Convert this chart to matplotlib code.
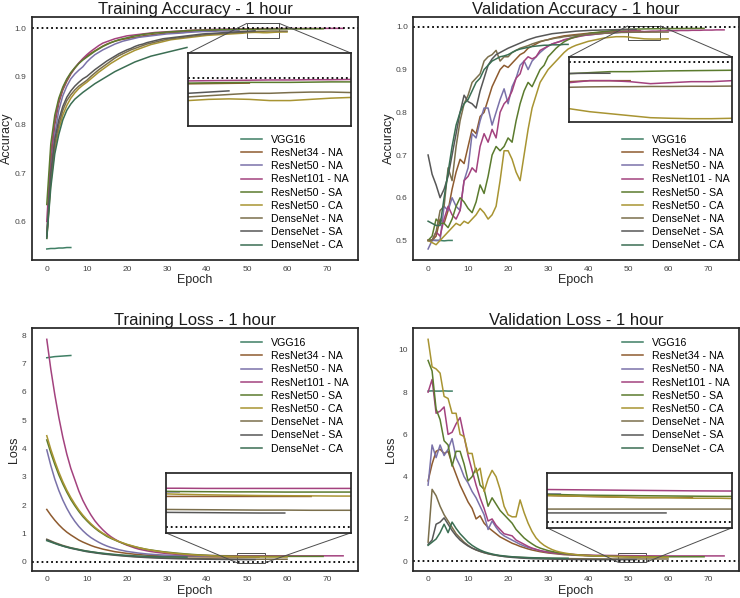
import matplotlib
matplotlib.use("Agg")
import matplotlib.pyplot as plt
from mpl_toolkits.axes_grid1.inset_locator import mark_inset

plt.rcParams['font.family'] = ['Liberation Sans', 'DejaVu Sans']

models = ["VGG16", "ResNet34 - NA", "ResNet50 - NA", "ResNet101 - NA", "ResNet50 - SA",
          "ResNet50 - CA", "DenseNet - NA", "DenseNet - SA", "DenseNet - CA"]
colors = ['#3f7f64', '#8e5b2f', '#7a72a9', '#a3427e', '#5b7b2e',
          '#a89432', '#7b6f4c', '#575757', '#3b6e53']

# ---------------- Training accuracy ----------------
tacc_vgg16 = [0.543, 0.544, 0.544, 0.545, 0.545, 0.546, 0.546]
tacc_r34na = [0.57, 0.72, 0.80, 0.845, 0.872, 0.89, 0.905, 0.917, 0.927, 0.935,
              0.942, 0.948, 0.953, 0.958, 0.963, 0.967, 0.970, 0.973, 0.975, 0.977,
              0.978, 0.980, 0.981, 0.982, 0.984, 0.985, 0.986, 0.987, 0.988, 0.989,
              0.990, 0.9905, 0.991, 0.9915, 0.992, 0.993, 0.9935, 0.994, 0.9942, 0.9945,
              0.995, 0.9952, 0.9955, 0.9957, 0.996, 0.9962, 0.9965, 0.9967, 0.997, 0.9972,
              0.9974, 0.9975, 0.9976, 0.9977]
tacc_r50na = [0.57, 0.70, 0.78, 0.83, 0.86, 0.88, 0.895, 0.905, 0.913, 0.92,
              0.93, 0.938, 0.945, 0.95, 0.955, 0.959, 0.963, 0.967, 0.97, 0.973,
              0.975, 0.977, 0.979, 0.981, 0.982, 0.983, 0.984, 0.985, 0.986, 0.987,
              0.988, 0.9885, 0.989, 0.9895, 0.99, 0.991, 0.9915, 0.992, 0.9925, 0.993,
              0.993, 0.9935, 0.9935, 0.994, 0.994, 0.994, 0.9942, 0.9945, 0.9945]
tacc_r101na = [0.60, 0.74, 0.81, 0.85, 0.875, 0.893, 0.907, 0.918, 0.928, 0.937,
               0.945, 0.952, 0.958, 0.964, 0.969, 0.972, 0.975, 0.978, 0.980, 0.982,
               0.984, 0.985, 0.986, 0.987, 0.988, 0.989, 0.990, 0.991, 0.9915, 0.992,
               0.9925, 0.993, 0.9935, 0.994, 0.9945, 0.995, 0.9955, 0.996, 0.9963, 0.9966,
               0.997, 0.9972, 0.9974, 0.9976, 0.9978, 0.998, 0.9982, 0.9983, 0.9984, 0.9985,
               0.9986, 0.9987, 0.9988, 0.9989, 0.999, 0.999, 0.9991, 0.9991, 0.9992, 0.9992,
               0.9992, 0.9993, 0.9993, 0.9993, 0.9993, 0.9994, 0.9994, 0.9994, 0.9994, 0.9994,
               0.9995, 0.9995, 0.9995, 0.9995, 0.9995]
tacc_r50sa = [0.635, 0.76, 0.82, 0.855, 0.878, 0.895, 0.908, 0.918, 0.927, 0.934,
              0.94, 0.946, 0.952, 0.957, 0.962, 0.966, 0.97, 0.973, 0.976, 0.978,
              0.98, 0.982, 0.984, 0.985, 0.987, 0.988, 0.989, 0.99, 0.9905, 0.991,
              0.992, 0.9925, 0.993, 0.9935, 0.994, 0.995, 0.9952, 0.9955, 0.9957, 0.996,
              0.996, 0.9962, 0.9965, 0.9967, 0.997, 0.997, 0.9972, 0.9974, 0.9975, 0.9976,
              0.9977, 0.9978, 0.9979, 0.998, 0.998, 0.998, 0.9981, 0.9982, 0.9982, 0.9983,
              0.9983, 0.9984, 0.9984, 0.9985, 0.9985, 0.9986, 0.9986, 0.9987, 0.9987, 0.9987]
tacc_r50ca = [0.565, 0.68, 0.75, 0.79, 0.82, 0.84, 0.855, 0.866, 0.875, 0.882,
              0.888, 0.895, 0.902, 0.909, 0.915, 0.921, 0.927, 0.932, 0.937, 0.942,
              0.946, 0.95, 0.954, 0.957, 0.96, 0.963, 0.966, 0.968, 0.97, 0.972,
              0.974, 0.976, 0.977, 0.978, 0.979, 0.98, 0.981, 0.982, 0.983, 0.984,
              0.985, 0.9855, 0.986, 0.9865, 0.987, 0.9875, 0.988, 0.9885, 0.989, 0.9895,
              0.9905, 0.991, 0.9912, 0.991, 0.9905, 0.9905, 0.991, 0.9915, 0.9918, 0.992, 0.992]
tacc_dnna = [0.567, 0.69, 0.76, 0.80, 0.83, 0.85, 0.862, 0.872, 0.88, 0.886,
             0.892, 0.9, 0.907, 0.914, 0.92, 0.926, 0.932, 0.938, 0.943, 0.947,
             0.951, 0.955, 0.958, 0.961, 0.964, 0.967, 0.969, 0.971, 0.973, 0.975,
             0.977, 0.978, 0.979, 0.98, 0.981, 0.982, 0.983, 0.984, 0.985, 0.986,
             0.987, 0.9875, 0.988, 0.9885, 0.989, 0.9895, 0.99, 0.9905, 0.991, 0.9915,
             0.992, 0.9925, 0.993, 0.9935, 0.9935, 0.9938, 0.994, 0.994, 0.9938, 0.9937, 0.9937]
tacc_dnsa = [0.57, 0.7, 0.77, 0.81, 0.838, 0.857, 0.87, 0.88, 0.888, 0.895,
             0.9, 0.907, 0.914, 0.92, 0.926, 0.932, 0.937, 0.942, 0.947, 0.951,
             0.955, 0.958, 0.962, 0.965, 0.967, 0.97, 0.972, 0.974, 0.976, 0.978,
             0.979, 0.98, 0.981, 0.982, 0.983, 0.984, 0.985, 0.986, 0.987, 0.988,
             0.9885, 0.989, 0.9895, 0.99, 0.9905, 0.991, 0.9915, 0.992, 0.9925, 0.993,
             0.9935, 0.994, 0.9945]
tacc_dnca = [0.565, 0.67, 0.74, 0.78, 0.81, 0.83, 0.843, 0.853, 0.86, 0.867,
             0.873, 0.879, 0.885, 0.89, 0.895, 0.9, 0.905, 0.91, 0.914, 0.918,
             0.922, 0.926, 0.93, 0.933, 0.936, 0.939, 0.942, 0.944, 0.946, 0.948,
             0.95, 0.952, 0.954, 0.956, 0.958, 0.96]

# ---------------- Validation accuracy ----------------
vacc_vgg16 = [0.5, 0.501, 0.5, 0.5, 0.499, 0.5, 0.5]
vacc_r34na = [0.50, 0.50, 0.51, 0.55, 0.54, 0.57, 0.62, 0.66, 0.69, 0.68,
              0.72, 0.76, 0.75, 0.79, 0.80, 0.83, 0.86, 0.88, 0.90, 0.91,
              0.905, 0.915, 0.925, 0.935, 0.94, 0.95, 0.955, 0.96, 0.965, 0.968,
              0.97, 0.973, 0.975, 0.977, 0.979, 0.98, 0.981, 0.982, 0.983, 0.984,
              0.985, 0.986, 0.986, 0.987, 0.987, 0.988, 0.988, 0.989, 0.989, 0.99,
              0.99, 0.9905, 0.9905, 0.9905]
vacc_r50na = [0.48, 0.50, 0.50, 0.50, 0.58, 0.57, 0.60, 0.58, 0.57, 0.64,
              0.67, 0.75, 0.74, 0.78, 0.81, 0.81, 0.77, 0.80, 0.83, 0.855,
              0.82, 0.86, 0.88, 0.91, 0.92, 0.90, 0.92, 0.93, 0.94, 0.948,
              0.955, 0.96, 0.963, 0.966, 0.969, 0.972, 0.975, 0.977, 0.979, 0.98,
              0.981, 0.982, 0.983, 0.984, 0.985, 0.985, 0.986, 0.986, 0.987]
vacc_r101na = [0.50, 0.50, 0.52, 0.51, 0.55, 0.58, 0.56, 0.55, 0.57, 0.64,
               0.65, 0.67, 0.66, 0.72, 0.75, 0.73, 0.76, 0.74, 0.80, 0.82,
               0.83, 0.85, 0.88, 0.89, 0.92, 0.93, 0.925, 0.93, 0.945, 0.95,
               0.955, 0.96, 0.963, 0.966, 0.97, 0.972, 0.974, 0.976, 0.978, 0.98,
               0.981, 0.982, 0.983, 0.984, 0.985, 0.986, 0.987, 0.988, 0.989, 0.989,
               0.9895, 0.9905, 0.9905, 0.99, 0.989, 0.9895, 0.99, 0.99, 0.9905, 0.9905,
               0.991, 0.991, 0.991, 0.9915, 0.9915, 0.9915, 0.992, 0.992, 0.992, 0.9925,
               0.9925, 0.9925, 0.993, 0.993, 0.993]
vacc_r50sa = [0.50, 0.51, 0.55, 0.54, 0.54, 0.53, 0.55, 0.58, 0.60, 0.59,
              0.575, 0.565, 0.59, 0.63, 0.61, 0.65, 0.70, 0.72, 0.71, 0.72,
              0.74, 0.73, 0.78, 0.82, 0.85, 0.87, 0.86, 0.88, 0.90, 0.91,
              0.93, 0.94, 0.95, 0.958, 0.965, 0.97, 0.974, 0.977, 0.98, 0.982,
              0.984, 0.986, 0.987, 0.988, 0.989, 0.99, 0.991, 0.992, 0.993, 0.9935,
              0.994, 0.9945, 0.995, 0.995, 0.9952, 0.9954, 0.9955, 0.9956, 0.9957, 0.9958,
              0.9959, 0.996, 0.996, 0.9961, 0.9962, 0.9963, 0.9963, 0.9964, 0.9965, 0.9965]
vacc_r50ca = [0.50, 0.495, 0.49, 0.50, 0.51, 0.52, 0.53, 0.54, 0.535, 0.545,
              0.54, 0.55, 0.56, 0.575, 0.565, 0.55, 0.56, 0.58, 0.64, 0.71,
              0.71, 0.69, 0.66, 0.64, 0.70, 0.76, 0.81, 0.84, 0.87, 0.885,
              0.90, 0.91, 0.92, 0.93, 0.94, 0.948, 0.953, 0.957, 0.96, 0.963,
              0.966, 0.968, 0.97, 0.972, 0.974, 0.975, 0.976, 0.977, 0.977, 0.977,
              0.9765, 0.975, 0.974, 0.973, 0.972, 0.9717, 0.9715, 0.9715, 0.9717, 0.9718, 0.972]
vacc_dnna = [0.50, 0.50, 0.52, 0.57, 0.58, 0.67, 0.64, 0.72, 0.78, 0.82,
             0.84, 0.87, 0.88, 0.89, 0.92, 0.93, 0.935, 0.945, 0.92, 0.93,
             0.93, 0.94, 0.945, 0.95, 0.953, 0.956, 0.96, 0.963, 0.966, 0.968,
             0.97, 0.972, 0.974, 0.975, 0.977, 0.978, 0.979, 0.98, 0.981, 0.982,
             0.983, 0.9835, 0.984, 0.9845, 0.985, 0.9855, 0.986, 0.9865, 0.987, 0.987,
             0.9872, 0.9874, 0.9875, 0.9875, 0.9876, 0.9876, 0.9877, 0.9877, 0.9878, 0.9878, 0.9878]
vacc_dnsa = [0.70, 0.655, 0.63, 0.60, 0.62, 0.65, 0.70, 0.75, 0.80, 0.84,
             0.825, 0.82, 0.81, 0.85, 0.88, 0.91, 0.925, 0.935, 0.94, 0.945,
             0.95, 0.954, 0.958, 0.962, 0.966, 0.97, 0.973, 0.976, 0.978, 0.98,
             0.982, 0.984, 0.985, 0.986, 0.987, 0.988, 0.989, 0.99, 0.9905, 0.991,
             0.9915, 0.992, 0.9922, 0.9925, 0.9928, 0.993, 0.9932, 0.9935, 0.9937, 0.994,
             0.9941, 0.9942, 0.9942]
vacc_dnca = [0.545, 0.54, 0.535, 0.535, 0.60, 0.66, 0.72, 0.77, 0.80, 0.82,
             0.83, 0.85, 0.87, 0.88, 0.90, 0.91, 0.92, 0.925, 0.93, 0.932,
             0.935, 0.94, 0.945, 0.948, 0.95, 0.952, 0.954, 0.955, 0.956, 0.957,
             0.957, 0.958, 0.958, 0.958, 0.959, 0.959]

# ---------------- Training loss ----------------
tloss_vgg16 = [7.2, 7.22, 7.24, 7.25, 7.26, 7.27, 7.28]
tloss_r34na = [1.85, 1.65, 1.47, 1.31, 1.17, 1.05, 0.95, 0.86, 0.77, 0.7,
               0.64, 0.58, 0.53, 0.49, 0.45, 0.42, 0.39, 0.36, 0.34, 0.32,
               0.3, 0.285, 0.27, 0.258, 0.247, 0.237, 0.228, 0.22, 0.213, 0.207,
               0.202, 0.198, 0.194, 0.19, 0.187, 0.185, 0.183, 0.181, 0.179, 0.177,
               0.176, 0.175, 0.174, 0.173, 0.172, 0.171, 0.171, 0.17, 0.17, 0.17,
               0.17, 0.17, 0.17, 0.17]
tloss_r50na = [3.95, 3.4, 2.92, 2.52, 2.18, 1.89, 1.64, 1.43, 1.25, 1.1,
               0.97, 0.86, 0.77, 0.69, 0.62, 0.56, 0.51, 0.47, 0.43, 0.4,
               0.37, 0.35, 0.33, 0.31, 0.295, 0.28, 0.27, 0.26, 0.25, 0.243,
               0.237, 0.231, 0.226, 0.222, 0.218, 0.215, 0.212, 0.21, 0.208, 0.206,
               0.204, 0.202, 0.2, 0.199, 0.198, 0.197, 0.196, 0.195, 0.195]
tloss_r101na = [7.85, 6.8, 5.9, 5.1, 4.4, 3.8, 3.3, 2.9, 2.5, 2.17,
                1.9, 1.66, 1.45, 1.28, 1.13, 1.0, 0.89, 0.8, 0.72, 0.65,
                0.59, 0.54, 0.49, 0.45, 0.42, 0.39, 0.365, 0.345, 0.325, 0.31,
                0.295, 0.283, 0.272, 0.263, 0.255, 0.248, 0.242, 0.237, 0.233, 0.229,
                0.226, 0.223, 0.221, 0.219, 0.218, 0.217, 0.216, 0.215, 0.215, 0.214,
                0.214, 0.214, 0.214, 0.214, 0.214, 0.214, 0.214, 0.214, 0.214, 0.214,
                0.214, 0.214, 0.214, 0.214, 0.214, 0.214, 0.214, 0.214, 0.214, 0.214,
                0.214, 0.214, 0.214, 0.214, 0.214]
tloss_r50sa = [4.3, 3.85, 3.44, 3.07, 2.75, 2.46, 2.2, 1.98, 1.78, 1.6,
               1.45, 1.31, 1.19, 1.08, 0.99, 0.9, 0.83, 0.77, 0.71, 0.66,
               0.61, 0.57, 0.53, 0.5, 0.47, 0.44, 0.42, 0.4, 0.38, 0.36,
               0.345, 0.33, 0.315, 0.302, 0.29, 0.278, 0.267, 0.257, 0.248, 0.24,
               0.233, 0.226, 0.22, 0.215, 0.21, 0.206, 0.202, 0.199, 0.197, 0.196,
               0.195, 0.195, 0.194, 0.194, 0.194, 0.194, 0.194, 0.194, 0.194, 0.194,
               0.194, 0.194, 0.194, 0.194, 0.194, 0.194, 0.194, 0.194, 0.194, 0.194]
tloss_r50ca = [4.45, 3.97, 3.55, 3.17, 2.83, 2.53, 2.27, 2.04, 1.83, 1.65,
               1.49, 1.35, 1.22, 1.11, 1.01, 0.93, 0.85, 0.78, 0.72, 0.67,
               0.62, 0.58, 0.54, 0.5, 0.47, 0.44, 0.415, 0.39, 0.37, 0.35,
               0.33, 0.315, 0.3, 0.287, 0.275, 0.264, 0.254, 0.245, 0.237, 0.23,
               0.223, 0.216, 0.21, 0.204, 0.199, 0.194, 0.19, 0.186, 0.182, 0.179,
               0.177, 0.175, 0.174, 0.173, 0.172, 0.172, 0.171, 0.171, 0.171, 0.171, 0.171]
tloss_dnna = [0.8, 0.74, 0.68, 0.63, 0.58, 0.54, 0.5, 0.47, 0.44, 0.41,
              0.38, 0.355, 0.335, 0.315, 0.295, 0.28, 0.265, 0.25, 0.235, 0.222,
              0.21, 0.2, 0.19, 0.182, 0.175, 0.168, 0.162, 0.156, 0.151, 0.146,
              0.142, 0.138, 0.134, 0.13, 0.127, 0.124, 0.121, 0.118, 0.116, 0.114,
              0.112, 0.11, 0.108, 0.106, 0.104, 0.102, 0.1, 0.099, 0.098, 0.097,
              0.096, 0.095, 0.095, 0.094, 0.094, 0.094, 0.094, 0.094, 0.094, 0.094, 0.094]
tloss_dnsa = [0.78, 0.72, 0.66, 0.61, 0.56, 0.52, 0.48, 0.45, 0.42, 0.39,
              0.36, 0.34, 0.32, 0.3, 0.28, 0.265, 0.25, 0.235, 0.222, 0.21,
              0.198, 0.187, 0.177, 0.168, 0.16, 0.152, 0.145, 0.139, 0.133, 0.128,
              0.123, 0.119, 0.115, 0.111, 0.108, 0.105, 0.102, 0.1, 0.098, 0.096,
              0.094, 0.092, 0.09, 0.088, 0.086, 0.085, 0.084, 0.083, 0.082, 0.081,
              0.08, 0.079, 0.079]
tloss_dnca = [0.75, 0.7, 0.65, 0.6, 0.56, 0.52, 0.49, 0.46, 0.43, 0.4,
              0.38, 0.36, 0.34, 0.32, 0.305, 0.29, 0.275, 0.262, 0.25, 0.24,
              0.23, 0.221, 0.213, 0.206, 0.2, 0.195, 0.19, 0.186, 0.182, 0.179,
              0.176, 0.174, 0.172, 0.17, 0.169, 0.168]

# ---------------- Validation loss ----------------
vloss_vgg16 = [8.05, 8.06, 8.05, 8.05, 8.06, 8.05, 8.05]
vloss_r34na = [3.8, 4.6, 5.2, 5.3, 5.1, 5.2, 4.6, 4.1, 3.6, 3.2,
               2.8, 2.5, 2.0, 2.15, 1.8, 1.6, 1.45, 1.3, 1.15, 1.05,
               0.95, 0.85, 0.78, 0.7, 0.64, 0.58, 0.53, 0.49, 0.45, 0.42,
               0.39, 0.37, 0.35, 0.33, 0.31, 0.3, 0.29, 0.28, 0.27, 0.26,
               0.255, 0.25, 0.245, 0.24, 0.235, 0.23, 0.225, 0.22, 0.215, 0.21,
               0.205, 0.2, 0.2, 0.2]
vloss_r50na = [3.6, 5.5, 4.9, 5.5, 5.0, 5.3, 5.8, 4.9, 4.5, 4.0,
               3.7, 3.3, 3.0, 2.6, 2.2, 1.5, 1.9, 1.6, 1.35, 1.2,
               1.1, 1.0, 0.9, 0.8, 0.72, 0.65, 0.6, 0.55, 0.5, 0.46,
               0.43, 0.4, 0.38, 0.36, 0.34, 0.32, 0.31, 0.3, 0.29, 0.28,
               0.27, 0.26, 0.255, 0.25, 0.245, 0.24, 0.235, 0.23, 0.23]
vloss_r101na = [8.0, 8.6, 7.0, 7.1, 7.3, 6.0, 6.1, 6.5, 6.8, 5.9,
                5.0, 4.3, 3.6, 3.0, 2.5, 1.9, 2.0, 1.7, 1.5, 1.3,
                1.25, 1.2, 1.0, 0.9, 0.8, 0.7, 0.62, 0.56, 0.5, 0.46,
                0.43, 0.4, 0.38, 0.36, 0.34, 0.33, 0.32, 0.31, 0.3, 0.295,
                0.29, 0.285, 0.28, 0.278, 0.275, 0.272, 0.27, 0.268, 0.266, 0.264,
                0.262, 0.26, 0.258, 0.256, 0.255, 0.254, 0.253, 0.252, 0.251, 0.25,
                0.25, 0.25, 0.25, 0.25, 0.25, 0.25, 0.25, 0.25, 0.25, 0.25,
                0.25, 0.25, 0.25, 0.25, 0.25]
vloss_r50sa = [9.5, 9.0, 7.2, 6.7, 5.7, 5.5, 4.5, 5.2, 5.2, 4.6,
               3.8, 4.0, 4.4, 3.6, 3.4, 2.6, 3.0, 2.7, 2.4, 2.2,
               2.0, 1.8, 1.5, 1.3, 1.1, 0.95, 0.82, 0.7, 0.62, 0.56,
               0.5, 0.46, 0.42, 0.39, 0.36, 0.34, 0.32, 0.3, 0.29, 0.28,
               0.27, 0.26, 0.255, 0.25, 0.245, 0.24, 0.235, 0.23, 0.225, 0.22,
               0.218, 0.216, 0.214, 0.212, 0.21, 0.21, 0.21, 0.21, 0.21, 0.21,
               0.21, 0.21, 0.21, 0.21, 0.21, 0.21, 0.21, 0.21, 0.21, 0.21]
vloss_r50ca = [10.5, 9.2, 9.1, 8.9, 7.8, 7.7, 7.0, 7.0, 6.0, 5.9,
               5.1, 5.1, 4.2, 4.4, 3.3, 3.9, 4.3, 4.0, 3.4, 2.6,
               2.2, 2.1, 2.1, 2.9, 2.3, 1.8, 1.4, 1.1, 0.9, 0.75,
               0.64, 0.55, 0.48, 0.43, 0.39, 0.36, 0.33, 0.31, 0.29, 0.28,
               0.27, 0.26, 0.25, 0.24, 0.235, 0.23, 0.225, 0.22, 0.215, 0.21,
               0.205, 0.2, 0.2, 0.195, 0.195, 0.19, 0.19, 0.19, 0.19, 0.19, 0.19]
vloss_dnna = [0.9, 3.4, 3.1, 2.6, 2.2, 1.9, 1.6, 1.3, 1.1, 0.9,
              0.75, 0.62, 0.53, 0.46, 0.4, 0.35, 0.31, 0.28, 0.25, 0.23,
              0.21, 0.2, 0.19, 0.18, 0.17, 0.165, 0.16, 0.155, 0.15, 0.145,
              0.14, 0.135, 0.13, 0.128, 0.125, 0.122, 0.12, 0.118, 0.116, 0.114,
              0.112, 0.11, 0.11, 0.108, 0.107, 0.106, 0.105, 0.105, 0.105, 0.105,
              0.105, 0.105, 0.105, 0.105, 0.105, 0.105, 0.105, 0.105, 0.105, 0.105, 0.105]
vloss_dnsa = [0.8, 1.0, 1.75, 1.85, 2.05, 1.75, 1.45, 1.2, 1.0, 0.85,
              0.72, 0.62, 0.54, 0.47, 0.41, 0.36, 0.32, 0.28, 0.25, 0.22,
              0.2, 0.18, 0.165, 0.15, 0.14, 0.13, 0.12, 0.115, 0.11, 0.105,
              0.1, 0.097, 0.094, 0.091, 0.088, 0.086, 0.084, 0.082, 0.08, 0.079,
              0.078, 0.077, 0.076, 0.075, 0.075, 0.074, 0.074, 0.073, 0.073, 0.073,
              0.073, 0.073, 0.073]
vloss_dnca = [0.75, 0.9, 1.05, 1.35, 1.75, 1.35, 1.85, 1.55, 1.3, 1.1,
              0.9, 0.75, 0.63, 0.53, 0.45, 0.39, 0.34, 0.3, 0.27, 0.25,
              0.23, 0.21, 0.2, 0.19, 0.18, 0.17, 0.165, 0.16, 0.155, 0.15,
              0.148, 0.145, 0.143, 0.141, 0.14, 0.14]

panels = [
    dict(title="Training Accuracy - 1 hour", ylabel="Accuracy", ref=1.0,
         series=[tacc_vgg16, tacc_r34na, tacc_r50na, tacc_r101na, tacc_r50sa,
                 tacc_r50ca, tacc_dnna, tacc_dnsa, tacc_dnca],
         legend_loc="lower right", inset=[0.479, 0.552, 0.501, 0.30],
         ixlim=(50, 58), iylim=(0.98, 1.01), locs=(1, 2)),
    dict(title="Validation Accuracy - 1 hour", ylabel="Accuracy", ref=1.0,
         series=[vacc_vgg16, vacc_r34na, vacc_r50na, vacc_r101na, vacc_r50sa,
                 vacc_r50ca, vacc_dnna, vacc_dnsa, vacc_dnca],
         legend_loc="lower right", inset=[0.479, 0.570, 0.499, 0.268],
         ixlim=(50, 58), iylim=(0.97, 1.0025), locs=(1, 2)),
    dict(title="Training Loss - 1 hour", ylabel="Loss", ref=0.0,
         series=[tloss_vgg16, tloss_r34na, tloss_r50na, tloss_r101na, tloss_r50sa,
                 tloss_r50ca, tloss_dnna, tloss_dnsa, tloss_dnca],
         legend_loc="upper right", inset=[0.411, 0.156, 0.567, 0.248],
         ixlim=(47.5, 54.5), iylim=(-0.03, 0.3), locs=(3, 4)),
    dict(title="Validation Loss - 1 hour", ylabel="Loss", ref=0.0,
         series=[vloss_vgg16, vloss_r34na, vloss_r50na, vloss_r101na, vloss_r50sa,
                 vloss_r50ca, vloss_dnna, vloss_dnsa, vloss_dnca],
         legend_loc="upper right", inset=[0.411, 0.177, 0.568, 0.224],
         ixlim=(47.5, 54.5), iylim=(-0.05, 0.4), locs=(3, 4)),
]

axes_pos = [
    [0.0432, 0.5652, 0.4405, 0.4058],
    [0.5585, 0.5652, 0.4400, 0.4058],
    [0.0432, 0.0457, 0.4405, 0.4053],
    [0.5585, 0.0457, 0.4400, 0.4053],
]

fig = plt.figure(figsize=(7.4, 5.98), dpi=100)
edge = '#262626'
lw = 1.1

for p, pos in zip(panels, axes_pos):
    ax = fig.add_axes(pos)
    for name, col, vals in zip(models, colors, p["series"]):
        ax.plot(range(len(vals)), vals, color=col, lw=lw, label=name)
    ax.axhline(p["ref"], color='black', ls=':', lw=1.3)
    ax.set_title(p["title"], fontsize=12, color='#1a1a1a', pad=0.5)
    ax.set_xlabel("Epoch", fontsize=9, color='#262626', labelpad=1)
    ax.set_ylabel(p["ylabel"], fontsize=9, color='#262626', labelpad=1)
    ax.set_xticks([0, 10, 20, 30, 40, 50, 60, 70])
    ax.tick_params(axis='both', length=0, labelsize=6, colors='#444444', pad=4)
    for s in ax.spines.values():
        s.set_color(edge)
        s.set_linewidth(1.25)
    ax.legend(loc=p["legend_loc"], frameon=False, fontsize=7.7,
              labelspacing=0.3, handlelength=2.0, handletextpad=0.8)

    axins = ax.inset_axes(p["inset"])
    for name, col, vals in zip(models, colors, p["series"]):
        axins.plot(range(len(vals)), vals, color=col, lw=lw)
    axins.axhline(p["ref"], color='black', ls=':', lw=1.3)
    axins.set_xlim(*p["ixlim"])
    axins.set_ylim(*p["iylim"])
    axins.set_xticks([])
    axins.set_yticks([])
    for s in axins.spines.values():
        s.set_color(edge)
        s.set_linewidth(1.25)
    mark_inset(ax, axins, loc1=p["locs"][0], loc2=p["locs"][1],
               fc="none", ec="0.3", lw=0.7)

fig.savefig("out.png", dpi=100)
